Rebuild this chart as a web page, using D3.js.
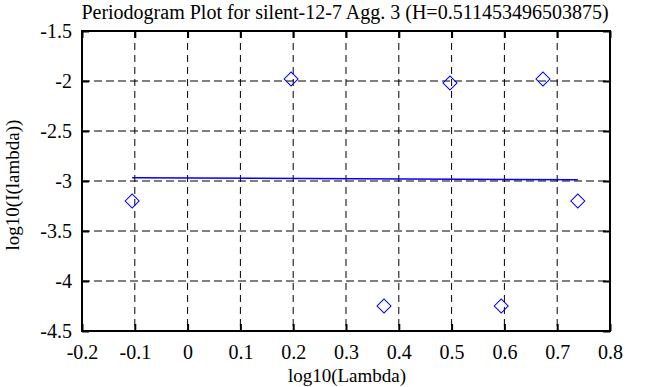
<!DOCTYPE html>
<html>
<head>
<meta charset="utf-8">
<script src="https://cdn.jsdelivr.net/npm/d3@7"></script>
<style>
  body { margin: 0; background: #fff; }
</style>
</head>
<body>
<svg id="chart" width="658" height="387"></svg>
<script>
"use strict";

// periodogram points: log10(lambda) vs log10(I(lambda))
const logLambda = [-0.105, 0.196, 0.372, 0.497, 0.594, 0.673, 0.739];
const logI = [-3.20, -1.98, -4.25, -2.02, -4.25, -1.98, -3.20];

// fitted line end points
const fitX = [-0.105, 0.739];
const fitY = [-2.968, -2.987];

const xTicks = [-0.2, -0.1, 0, 0.1, 0.2, 0.3, 0.4, 0.5, 0.6, 0.7, 0.8];
const yTicks = [-1.5, -2, -2.5, -3, -3.5, -4, -4.5];

const title = "Periodogram Plot for silent-12-7 Agg. 3 (H=0.511453496503875)";

const pLeft = 82, pRight = 610, pTop = 31, pBottom = 331;
const serif = "Liberation Serif";

const svg = d3.select("#chart");

const x = d3.scaleLinear().domain([-0.2, 0.8]).range([pLeft, pRight]);
const y = d3.scaleLinear().domain([-4.5, -1.5]).range([pBottom, pTop]);

// dashed grid
svg.append("g")
   .selectAll("line")
   .data(xTicks.slice(1, -1))
   .join("line")
   .attr("x1", d => x(d)).attr("x2", d => x(d))
   .attr("y1", pTop).attr("y2", pBottom)
   .attr("stroke", "#000").attr("stroke-width", 1)
   .attr("stroke-dasharray", "7,5");

svg.append("g")
   .selectAll("line")
   .data(yTicks.slice(1, -1))
   .join("line")
   .attr("x1", pLeft).attr("x2", pRight)
   .attr("y1", d => y(d)).attr("y2", d => y(d))
   .attr("stroke", "#000").attr("stroke-width", 1)
   .attr("stroke-dasharray", "8,4");

// axes with inner ticks
let fmt = d => String(d);

svg.append("g")
   .attr("transform", "translate(0," + pBottom + ")")
   .call(d3.axisBottom(x).tickValues(xTicks).tickSize(-7).tickPadding(14).tickFormat(fmt));
svg.append("g")
   .attr("transform", "translate(" + pLeft + ",0)")
   .call(d3.axisLeft(y).tickValues(yTicks).tickSize(-7).tickPadding(10).tickFormat(fmt));
svg.append("g")
   .attr("transform", "translate(0," + pTop + ")")
   .call(d3.axisTop(x).tickValues(xTicks).tickSize(-7).tickFormat(""));
svg.append("g")
   .attr("transform", "translate(" + pRight + ",0)")
   .call(d3.axisRight(y).tickValues(yTicks).tickSize(-7).tickFormat(""));

svg.selectAll(".domain").remove();
svg.selectAll("g").attr("font-family", serif).attr("font-size", 20);
svg.selectAll(".tick line").attr("stroke", "#000").attr("stroke-width", 2);
svg.selectAll(".tick text").attr("fill", "#000");

// frame
svg.append("rect")
   .attr("x", pLeft).attr("y", pTop)
   .attr("width", pRight - pLeft).attr("height", pBottom - pTop)
   .attr("fill", "none").attr("stroke", "#000").attr("stroke-width", 2);

// fitted line
let line = d3.line()
   .x(d => x(d[0]))
   .y(d => y(d[1]));
svg.append("path")
   .datum(fitX.map((v, i) => [v, fitY[i]]))
   .attr("d", line)
   .attr("fill", "none")
   .attr("stroke", "#0000ff")
   .attr("stroke-width", 1.5);

// diamonds
let diamond = d3.symbol().type(d3.symbolSquare).size(98);
svg.append("g")
   .selectAll("path")
   .data(logLambda.map((v, i) => [v, logI[i]]))
   .join("path")
   .attr("d", diamond)
   .attr("transform", d => "translate(" + x(d[0]) + "," + y(d[1]) + ") rotate(45)")
   .attr("fill", "none")
   .attr("stroke", "#0000ff")
   .attr("stroke-width", 1);

// texts
let label = svg.append("g").attr("font-family", serif).attr("font-size", 20);

label.append("text")
   .attr("x", 345).attr("y", 19)
   .attr("text-anchor", "middle")
   .text(title);

label.append("text")
   .attr("x", 347).attr("y", 382)
   .attr("text-anchor", "middle")
   .attr("font-size", 19)
   .text("log10(Lambda)");

label.append("text")
   .attr("transform", "translate(19,185) rotate(-90)")
   .attr("text-anchor", "middle")
   .attr("font-size", 19)
   .text("log10(I(lambda))");
</script>
</body>
</html>
